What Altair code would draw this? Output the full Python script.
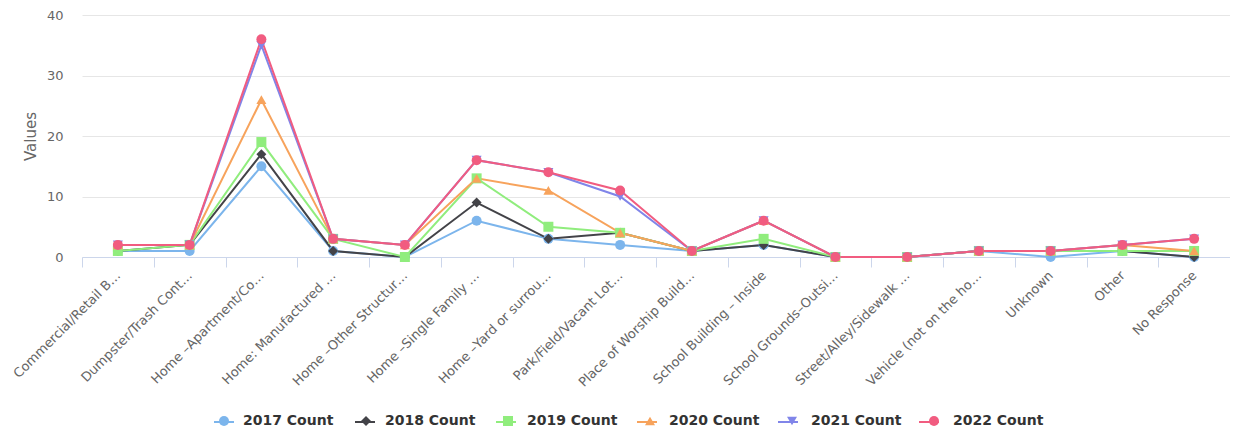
import altair as alt
import pandas as pd

categories = [
    "Commercial/Retail B…", "Dumpster/Trash Cont…", "Home –Apartment/Co…",
    "Home: Manufactured …", "Home –Other Structur…", "Home –Single Family …",
    "Home –Yard or surrou…", "Park/Field/Vacant Lot…", "Place of Worship Build…",
    "School Building – Inside", "School Grounds–Outsi…", "Street/Alley/Sidewalk …",
    "Vehicle (not on the ho…", "Unknown", "Other", "No Response",
]
series_names = ["2017 Count", "2018 Count", "2019 Count", "2020 Count", "2021 Count", "2022 Count"]
s2017 = [1, 1, 15, 1, 0, 6, 3, 2, 1, 2, 0, 0, 1, 0, 1, 0]
s2018 = [1, 2, 17, 1, 0, 9, 3, 4, 1, 2, 0, 0, 1, 1, 1, 0]
s2019 = [1, 2, 19, 3, 0, 13, 5, 4, 1, 3, 0, 0, 1, 1, 1, 1]
s2020 = [2, 2, 26, 3, 2, 13, 11, 4, 1, 6, 0, 0, 1, 1, 2, 1]
s2021 = [2, 2, 35, 3, 2, 16, 14, 10, 1, 6, 0, 0, 1, 1, 2, 3]
s2022 = [2, 2, 36, 3, 2, 16, 14, 11, 1, 6, 0, 0, 1, 1, 2, 3]
colors = ["#7cb5ec", "#434348", "#90ed7d", "#f7a35c", "#8085e9", "#f15c80"]
shapes = ["circle", "diamond", "square", "triangle-up", "triangle-down", "circle"]

rows = []
for name, vals in zip(series_names, [s2017, s2018, s2019, s2020, s2021, s2022]):
    for c, v in zip(categories, vals):
        rows.append({"category": c, "series": name, "line_series": name, "value": v})
df = pd.DataFrame(rows)

FONT = "DejaVu Sans"

x_enc = alt.X(
    "category:N", sort=categories, bandPosition=0.5,
    scale=alt.Scale(type="band", paddingInner=0, paddingOuter=0),
    axis=alt.Axis(
        title=None, labelAngle=-45, labelAlign="right", labelBaseline="middle",
        labelFontSize=13, labelColor="#666666", labelFont=FONT, labelPadding=6,
        labelLimit=0, labelOverlap=False, tickBand="extent", tickSize=10,
        tickColor="#ccd6eb", domainColor="#ccd6eb", grid=False,
    ),
)
y_enc = alt.Y(
    "value:Q", scale=alt.Scale(domain=[0, 40], nice=False),
    axis=alt.Axis(
        title="Values", values=[0, 10, 20, 30, 40], labelFontSize=13,
        labelColor="#666666", labelFont=FONT, labelPadding=19, tickSize=0,
        ticks=False, domain=False, gridColor="#e6e6e6", titleColor="#666666",
        titleFont=FONT, titleFontSize=15, titleFontWeight="normal",
        titleX=-52, titleY=121, titleAngle=270, titleAlign="center",
        titleBaseline="middle",
    ),
)

common_leg = dict(
    orient="none", direction="horizontal", title=None,
    labelFontSize=14, labelFontWeight="bold", labelColor="#333333", labelFont=FONT,
)
# line segments of the legend (no text)
leg_lines = alt.Legend(
    legendX=131, legendY=396, symbolType="stroke", symbolSize=400, symbolStrokeWidth=2,
    labelOffset=0, labelExpr="''", columnPadding=113, zindex=0, **common_leg,
)
# markers and labels of the legend
leg_marks = alt.Legend(
    legendX=130, legendY=399, symbolSize=100, symbolOffset=5, symbolOpacity=1,
    symbolStrokeWidth=0, labelOffset=12, columnPadding=20, zindex=1, **common_leg,
)

lines = alt.Chart(df).mark_line(strokeWidth=2).encode(
    x=x_enc, y=y_enc,
    stroke=alt.Stroke("line_series:N", scale=alt.Scale(range=colors), legend=leg_lines),
)
points = alt.Chart(df).mark_point(filled=True, size=100, opacity=1).encode(
    x=x_enc, y=y_enc,
    color=alt.Color("series:N", scale=alt.Scale(range=colors), legend=leg_marks),
    shape=alt.Shape("series:N", scale=alt.Scale(range=shapes), legend=leg_marks),
)

chart = alt.layer(lines, points).properties(
    width=1148, height=242,
    autosize=alt.AutoSizeParams(type="none"),
    padding={"left": 74, "top": 7, "right": 0, "bottom": 172},
).configure_view(stroke=None)

chart.save("out.html", embed_options={"renderer": "svg", "actions": False})
